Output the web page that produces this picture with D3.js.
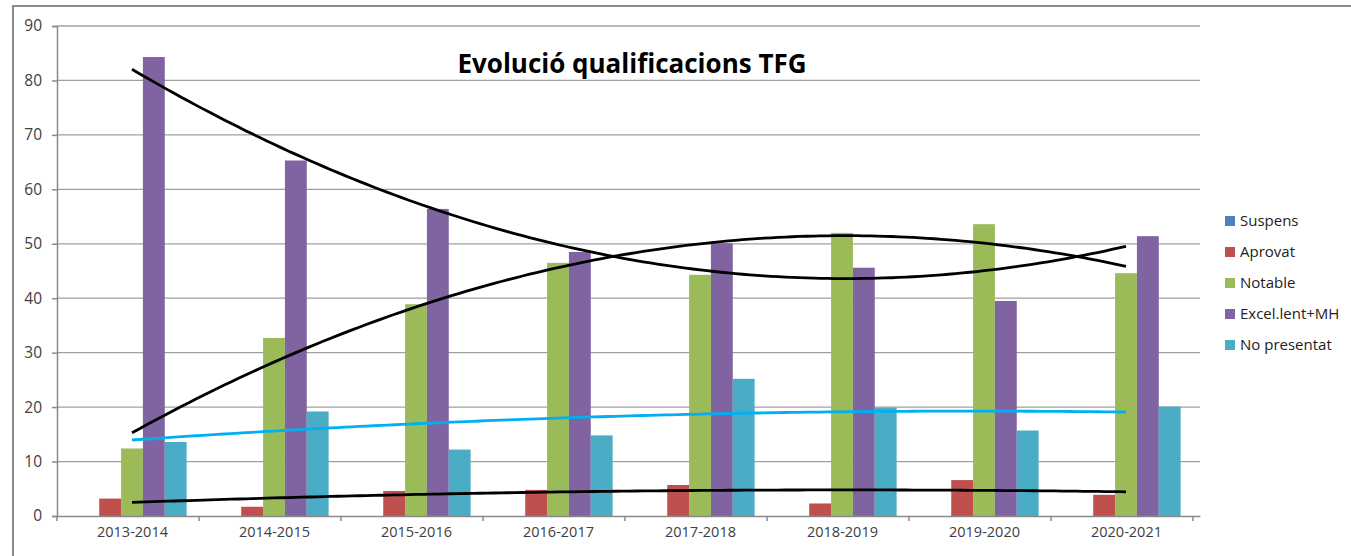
<!DOCTYPE html>
<html>
<head>
<meta charset="utf-8">
<script src="https://cdn.jsdelivr.net/npm/d3@7"></script>
<style>
  body { margin: 0; background: #fff; }
  text { font-family: "Open Sans", sans-serif; }
</style>
</head>
<body>
<svg width="1351" height="556"></svg>
<script>
// values
const years = ["2013-2014","2014-2015","2015-2016","2016-2017","2017-2018","2018-2019","2019-2020","2020-2021"];
const suspens     = [0, 0, 0, 0, 0, 0, 0, 0];
const aprovat     = [3.2, 1.7, 4.6, 4.8, 5.7, 2.3, 6.6, 3.9];
const notable     = [12.4, 32.7, 38.9, 46.5, 44.3, 52.0, 53.6, 44.6];
const excelMH     = [84.3, 65.3, 56.4, 48.5, 50.1, 45.6, 39.5, 51.4];
const noPresentat = [13.6, 19.2, 12.2, 14.8, 25.2, 19.9, 15.7, 20.1];
const seriesNames = ["Suspens", "Aprovat", "Notable", "Excel.lent+MH", "No presentat"];
const yTicks = [0, 10, 20, 30, 40, 50, 60, 70, 80, 90];

const seriesValues = [suspens, aprovat, notable, excelMH, noPresentat];
const data = years.map((yr, i) => ({
  year: yr,
  data: seriesNames.map((s, j) => ({ name: s, total: seriesValues[j][i] }))
}));

let svg = d3.select("svg"),
    margin = {top: 26, right: 151, bottom: 40, left: 57},
    width = +svg.attr("width") - margin.left - margin.right,
    height = +svg.attr("height") - margin.top - margin.bottom;

// chart frame (cut off on right and bottom, as in the screenshot)
svg.append("rect")
    .attr("x", 13).attr("y", 6)
    .attr("width", 1400).attr("height", 600)
    .attr("fill", "none")
    .attr("stroke", "#8a8a8a")
    .attr("stroke-width", 2);

let g = svg.append("g").attr("transform", "translate(" + margin.left + "," + margin.top + ")");

let x0 = d3.scaleBand().domain(years).rangeRound([0, width]).paddingInner(0);
let x1 = d3.scaleBand().domain(seriesNames).range([0, x0.bandwidth()]).paddingOuter(0.75).paddingInner(0);
let y = d3.scaleLinear().domain([0, 90]).range([height, 0]);

let z = d3.scaleOrdinal().domain(seriesNames)
    .range(["#4f81bd", "#c0504d", "#9bbb59", "#8064a2", "#4bacc6"]);

// gridlines
g.append("g")
  .selectAll("line")
  .data(yTicks.slice(1))
  .enter().append("line")
    .attr("x1", 0).attr("x2", width)
    .attr("y1", d => y(d)).attr("y2", d => y(d))
    .attr("stroke", "#a0a0a0")
    .attr("stroke-width", 1.3);

// bars
g.append("g")
  .selectAll("g")
  .data(data)
  .enter().append("g")
    .attr("transform", d => "translate(" + x0(d.year) + ",0)")
  .selectAll("rect")
  .data(d => d.data)
  .enter().append("rect")
    .attr("x", d => x1(d.name))
    .attr("y", d => y(d.total))
    .attr("width", x1.bandwidth())
    .attr("height", d => height - y(d.total))
    .attr("fill", d => z(d.name));

// quadratic least squares, like the Excel polynomial trendline
function polyFit(vals) {
  let n = vals.length, s = [0,0,0,0,0], t = [0,0,0];
  vals.forEach((v, i) => {
    let xx = i + 1;
    for (let k = 0; k < 5; k++) s[k] += Math.pow(xx, k);
    for (let k = 0; k < 3; k++) t[k] += v * Math.pow(xx, k);
  });
  let A = [[s[0], s[1], s[2], t[0]], [s[1], s[2], s[3], t[1]], [s[2], s[3], s[4], t[2]]];
  for (let c = 0; c < 3; c++) {
    for (let r = c + 1; r < 3; r++) {
      let f = A[r][c] / A[c][c];
      for (let k = c; k < 4; k++) A[r][k] -= f * A[c][k];
    }
  }
  let coef = [0, 0, 0];
  for (let r = 2; r >= 0; r--) {
    let sum = A[r][3];
    for (let k = r + 1; k < 3; k++) sum -= A[r][k] * coef[k];
    coef[r] = sum / A[r][r];
  }
  return xx => coef[0] + coef[1] * xx + coef[2] * xx * xx;
}

let xt = d3.scaleLinear().domain([1, years.length])
    .range([x0(years[0]) + x0.bandwidth() / 2, x0(years[years.length - 1]) + x0.bandwidth() / 2]);
let steps = d3.range(1, years.length + 0.001, 0.05);
let trendLine = d3.line().x(d => xt(d[0])).y(d => y(d[1]));

let trends = [
  {vals: aprovat, color: "#000"},
  {vals: notable, color: "#000"},
  {vals: excelMH, color: "#000"},
  {vals: noPresentat, color: "#00b0f0"}
];
g.append("g")
  .selectAll("path")
  .data(trends)
  .enter().append("path")
    .attr("d", d => { let f = polyFit(d.vals); return trendLine(steps.map(s => [s, f(s)])); })
    .attr("fill", "none")
    .attr("stroke", d => d.color)
    .attr("stroke-width", 2.8);

// axes
let xAxis = g.append("g")
    .attr("transform", "translate(0," + height + ")")
    .call(d3.axisBottom(x0).tickSize(0).tickPadding(11));
xAxis.select(".domain").attr("stroke", "#8a8a8a").attr("stroke-width", 1.5);
xAxis.selectAll("text").attr("font-size", 14.5).attr("fill", "#404040").attr("font-family", "Open Sans");
xAxis.selectAll(".bnd")
  .data(d3.range(years.length + 1))
  .enter().append("line")
    .attr("x1", d => d * x0.bandwidth()).attr("x2", d => d * x0.bandwidth())
    .attr("y1", 0).attr("y2", 5)
    .attr("stroke", "#8a8a8a").attr("stroke-width", 1.5);

let yAxis = g.append("g")
    .call(d3.axisLeft(y).tickValues(yTicks).tickSize(5).tickPadding(10));
yAxis.select(".domain").attr("stroke", "#8a8a8a").attr("stroke-width", 1.5);
yAxis.selectAll(".tick line").attr("stroke", "#8a8a8a").attr("stroke-width", 1.5);
yAxis.selectAll("text").attr("font-size", 15.5).attr("fill", "#404040").attr("font-family", "Open Sans");

// title
svg.append("text")
    .attr("x", 632).attr("y", 73)
    .attr("text-anchor", "middle")
    .attr("font-size", 26)
    .attr("font-weight", "bold")
    .attr("fill", "#000")
    .text("Evolució qualificacions TFG");

// legend
let legend = svg.append("g")
  .selectAll("g")
  .data(seriesNames)
  .enter().append("g")
    .attr("transform", (d, i) => "translate(1225," + (221 + i * 31) + ")");

legend.append("rect")
    .attr("x", 0).attr("y", -5)
    .attr("width", 10).attr("height", 10)
    .attr("fill", z);

legend.append("text")
    .attr("x", 15)
    .attr("dy", "0.35em")
    .attr("font-size", 15)
    .attr("fill", "#222")
    .text(d => d);
</script>
</body>
</html>
